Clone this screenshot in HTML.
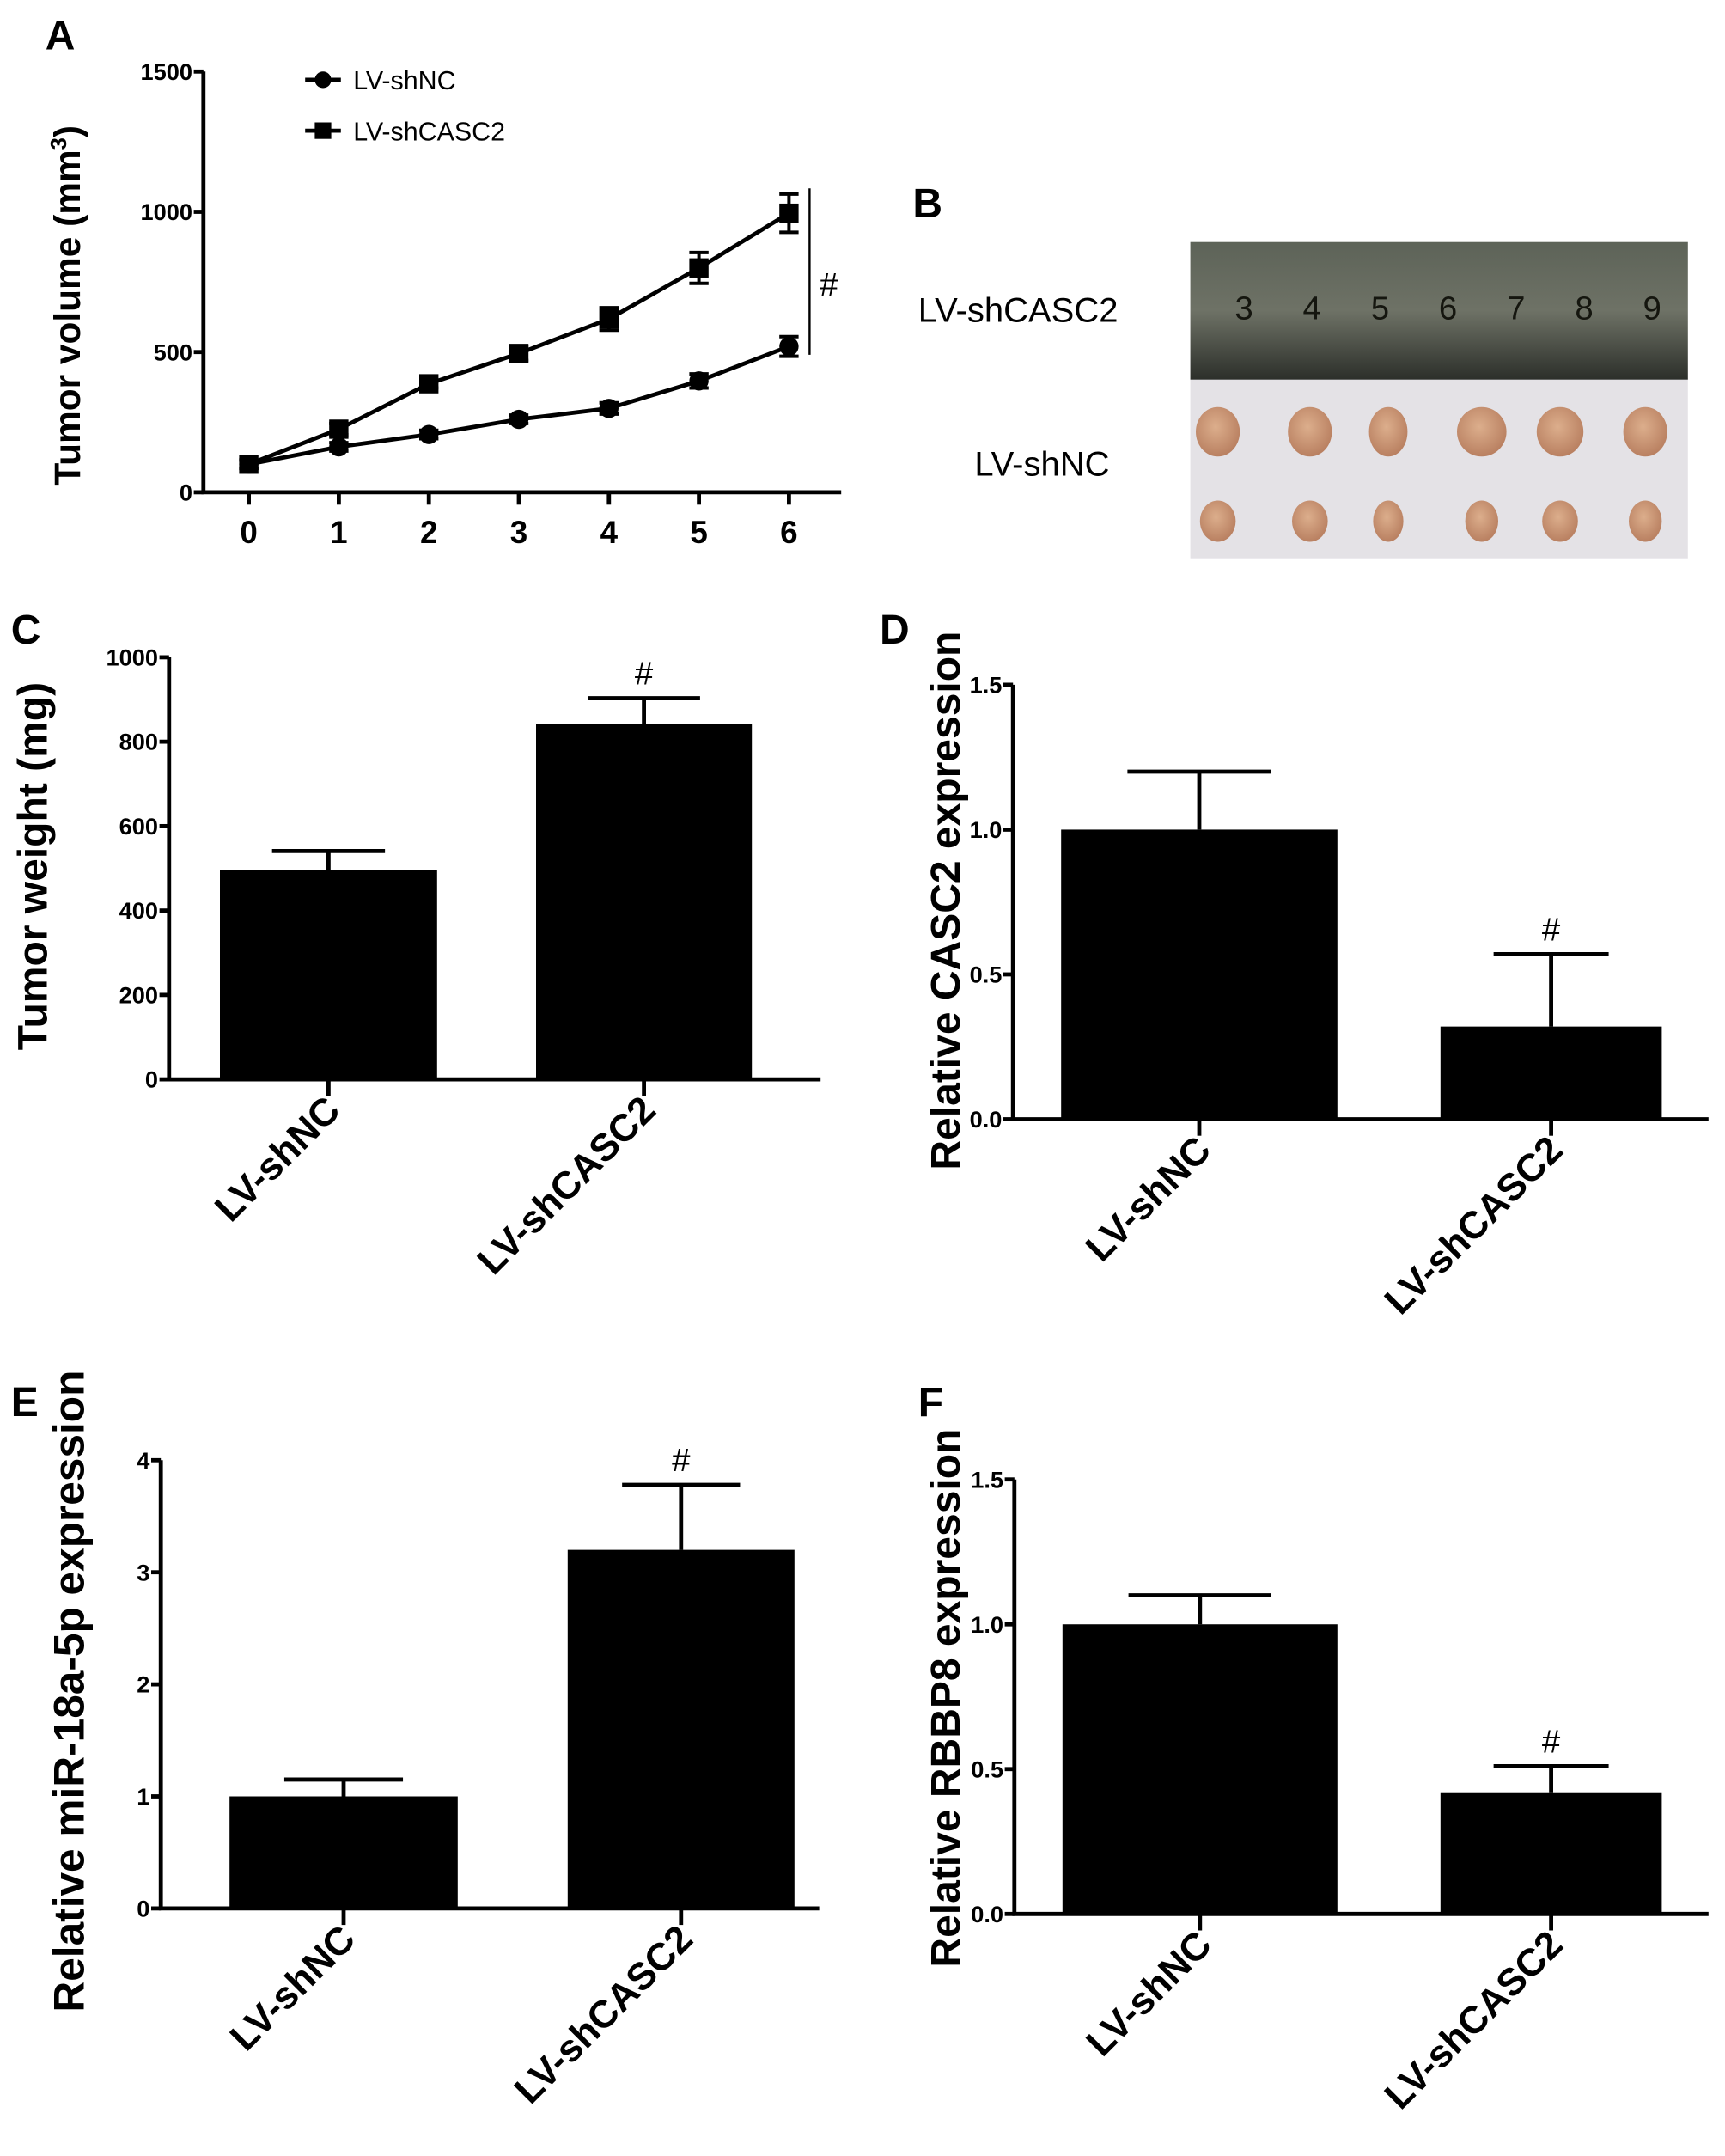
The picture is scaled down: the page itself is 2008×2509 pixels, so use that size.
<!DOCTYPE html>
<html><head><meta charset="utf-8"><style>
html,body{margin:0;padding:0;background:#fff}
svg{display:block}
text{font-family:"Liberation Sans",Arial,sans-serif}
</style></head><body>
<svg id="fig" width="2008" height="2509" viewBox="0 0 1255 1568" xmlns="http://www.w3.org/2000/svg">
<defs>
<linearGradient id="ruler" x1="0" y1="0" x2="0" y2="1"><stop offset="0" stop-color="#5d6358"/><stop offset="0.5" stop-color="#6e7266"/><stop offset="1" stop-color="#2c2f2a"/></linearGradient>
<radialGradient id="tum" cx="0.45" cy="0.4" r="0.6"><stop offset="0" stop-color="#dcae8c"/><stop offset="1" stop-color="#b98061"/></radialGradient>
</defs>
<g id="root"></g>
</svg>
<script>
// Panel A data
const daysA = [0,1,2,3,4,5,6];
const shNC_A = [100,162,206,260,299,397,520];
const shNC_A_err = [15,15,15,15,20,25,35];
const shCASC2_A = [100,225,387,495,618,800,995];
const shCASC2_A_err = [15,20,15,25,40,55,68];
const yTicksA = [0,500,1000,1500];
// Panel C
const catsC = ["LV-shNC","LV-shCASC2"];
const valsC = [495,843];
const errC = [46,60];
const yTicksC = [0,200,400,600,800,1000];
// Panel D
const valsD = [1.0,0.32];
const errD = [0.2,0.25];
const yTicksD = [0,0.5,1.0,1.5];
// Panel E
const valsE = [1.0,3.2];
const errE = [0.15,0.58];
const yTicksE = [0,1,2,3,4];
// Panel F
const valsF = [1.0,0.42];
const errF = [0.1,0.09];
const yTicksF = [0,0.5,1.0,1.5];

const NS="http://www.w3.org/2000/svg";
const root=document.getElementById('root');
function el(tag,attrs,parent,txt){const e=document.createElementNS(NS,tag);for(const k in attrs)e.setAttribute(k,attrs[k]);if(txt!==undefined)e.textContent=txt;(parent||root).appendChild(e);return e;}

function panelLabel(t,x,y){const e=el('text',{x:x,y:y,'font-size':30,'font-weight':'bold'},root,t);

}

// ---------- Panel A ----------
(function(){
 const g=el('g',{});
 
 
 const ax=148, y0=358, yTop=52, x0=181, xStep=(574-181)/6, yMax=1500;
 const X=d=>x0+d*xStep, Y=v=>y0-(v/yMax)*(y0-yTop);
 const axes=el('path',{d:`M${ax} ${yTop} V${y0} H612`,stroke:'#000','stroke-width':3,fill:'none'},g);
 
 
 yTicksA.forEach(v=>{
  el('line',{x1:ax-7,x2:ax,y1:Y(v),y2:Y(v),stroke:'#000','stroke-width':3},g);
  const t=el('text',{x:ax-8,y:Y(v)+6,'font-size':17,'font-weight':'bold','text-anchor':'end'},g,String(v));
  
  
 });
 daysA.forEach(d=>{
  el('line',{x1:X(d),x2:X(d),y1:y0,y2:y0+9,stroke:'#000','stroke-width':3},g);
  const t=el('text',{x:X(d),y:y0+37,'font-size':23,'font-weight':'bold','text-anchor':'middle'},g,String(d));
  
  
 });
 const yt=el('text',{x:0,y:0,'font-size':26.5,'font-weight':'bold','text-anchor':'middle',transform:'translate(58 222) rotate(-90)'},g);
 
 
 yt.appendChild(document.createTextNode('Tumor volume (mm'));
 el('tspan',{'font-size':16,dy:-10},yt,'3');
 el('tspan',{dy:10},yt,')');
 function series(vals,errs,shape,name){
  const s=el('g',{},g);
  
  
  el('polyline',{points:vals.map((v,i)=>X(daysA[i])+','+Y(v)).join(' '),fill:'none',stroke:'#000','stroke-width':3},s);
  vals.forEach((v,i)=>{
   const x=X(daysA[i]),yu=Y(v+errs[i]),yd=Y(v-errs[i]);
   el('path',{d:`M${x} ${yu} V${yd} M${x-7} ${yu} H${x+7} M${x-7} ${yd} H${x+7}`,stroke:'#000','stroke-width':2.5,fill:'none'},s);
   if(shape==='c') el('circle',{cx:x,cy:Y(v),r:7},s); else el('rect',{x:x-7,y:Y(v)-7,width:14,height:14},s);
  });
 }
 series(shNC_A,shNC_A_err,'c','series-lv-shnc');
 series(shCASC2_A,shCASC2_A_err,'s','series-lv-shcasc2');
 const lg=el('g',{},g);
 
 
 el('line',{x1:222,x2:248,y1:58,y2:58,stroke:'#000','stroke-width':3},lg);
 el('circle',{cx:235,cy:58,r:6},lg);
 el('text',{x:257,y:65,'font-size':19},lg,'LV-shNC');
 el('line',{x1:222,x2:248,y1:95,y2:95,stroke:'#000','stroke-width':3},lg);
 el('rect',{x:229,y:89,width:12,height:12},lg);
 el('text',{x:257,y:102,'font-size':19},lg,'LV-shCASC2');
 const br=el('line',{x1:589,x2:589,y1:137,y2:258,stroke:'#000','stroke-width':1.5},g);
 
 
 el('text',{x:603,y:215,'font-size':24,'text-anchor':'middle'},g,'#');
})();
panelLabel('A',33,36);

// ---------- Panel B (photo) ----------
(function(){
 const g=el('g',{});
 
 
 el('rect',{x:866,y:275,width:362,height:131,fill:'#e4e2e6'},g);
 el('rect',{x:866,y:176,width:362,height:100,fill:'url(#ruler)'},g);
 ['3','4','5','6','7','8','9'].forEach((n,i)=>el('text',{x:905+i*49.5,y:232,'font-size':24,fill:'#15160f','font-family':'Liberation Serif, serif','text-anchor':'middle'},g,n));
 const xs=[886,953,1010,1078,1135,1197];
 const topW=[16,16,14,18,17,16], botW=[13,13,11,12,13,12];
 xs.forEach((x,i)=>{el('ellipse',{cx:x,cy:314,rx:topW[i],ry:18,fill:'url(#tum)'},g);el('ellipse',{cx:x,cy:379,rx:botW[i],ry:15,fill:'url(#tum)'},g);});
 const l1=el('text',{x:668,y:234,'font-size':25},root,'LV-shCASC2');
 
 
 const l2=el('text',{x:709,y:346,'font-size':25},root,'LV-shNC');
 
 
})();
panelLabel('B',664,158);

// ---------- Bar panels ----------
function barPanel(cfg){
 const g=el('g',{});
 
 
 const {ax,y0,yTop,yMax,xEnd}=cfg;
 const Y=v=>y0-(v/yMax)*(y0-yTop);
 const axes=el('path',{d:`M${ax} ${yTop} V${y0} H${xEnd}`,stroke:'#000','stroke-width':3,fill:'none'},g);
 
 
 cfg.ticks.forEach(v=>{
  el('line',{x1:ax-7,x2:ax,y1:Y(v),y2:Y(v),stroke:'#000','stroke-width':3},g);
  const t=el('text',{x:ax-8,y:Y(v)+6,'font-size':17,'font-weight':'bold','text-anchor':'end'},g,cfg.fmt(v));
  
  
 });
 const yt=el('text',{x:0,y:0,'font-size':cfg.tSize,'font-weight':'bold','text-anchor':'middle',transform:`translate(${cfg.tx} ${cfg.ty}) rotate(-90)`},g,cfg.title);
 
 
 cfg.vals.forEach((v,i)=>{
  const [bx1,bx2]=cfg.barX[i], cx=(bx1+bx2)/2, cw=(bx2-bx1)*0.26;
  const b=el('rect',{x:bx1,y:Y(v),width:bx2-bx1,height:y0-Y(v),fill:'#000'},g);
  
  
  const ye=Y(v+cfg.errs[i]);
  el('path',{d:`M${cx} ${Y(v)} V${ye} M${cx-cw} ${ye} H${cx+cw}`,stroke:'#000','stroke-width':3,fill:'none'},g);
  el('line',{x1:cx,x2:cx,y1:y0,y2:y0+12,stroke:'#000','stroke-width':3},g);
  const t=el('text',{x:0,y:0,'font-size':28,'font-weight':'bold','text-anchor':'end',transform:`translate(${cx+10} ${y0+24}) rotate(-45)`},g,catsC[i]);
  
  
  if(i===1){el('text',{x:cx,y:ye-10,'font-size':24,'text-anchor':'middle'},g,'#');}
 });
}
barPanel({name:'panel-c-tumor-weight',ax:123,y0:785,yTop:478,yMax:1000,xEnd:597,ticks:yTicksC,fmt:v=>String(v),
 title:'Tumor weight (mg)',tx:34,ty:630,tSize:30,vals:valsC,errs:errC,barX:[[160,318],[390,547]]});
barPanel({name:'panel-d-casc2-expression',ax:737,y0:814,yTop:498,yMax:1.5,xEnd:1243,ticks:yTicksD,fmt:v=>v.toFixed(1),
 title:'Relative CASC2 expression',tx:698,ty:655,tSize:30,vals:valsD,errs:errD,barX:[[772,973],[1048,1209]]});
barPanel({name:'panel-e-mir18a-expression',ax:117,y0:1388,yTop:1062,yMax:4,xEnd:596,ticks:yTicksE,fmt:v=>String(v),
 title:'Relative miR-18a-5p expression',tx:61,ty:1230,tSize:31,vals:valsE,errs:errE,barX:[[167,333],[413,578]]});
barPanel({name:'panel-f-rbbp8-expression',ax:738,y0:1392,yTop:1076,yMax:1.5,xEnd:1243,ticks:yTicksF,fmt:v=>v.toFixed(1),
 title:'Relative RBBP8 expression',tx:698,ty:1235,tSize:30,vals:valsF,errs:errF,barX:[[773,973],[1048,1209]]});
panelLabel('C',8,468);
panelLabel('D',640,468);
panelLabel('E',8,1030);
panelLabel('F',668,1030);
</script>
</body></html>
